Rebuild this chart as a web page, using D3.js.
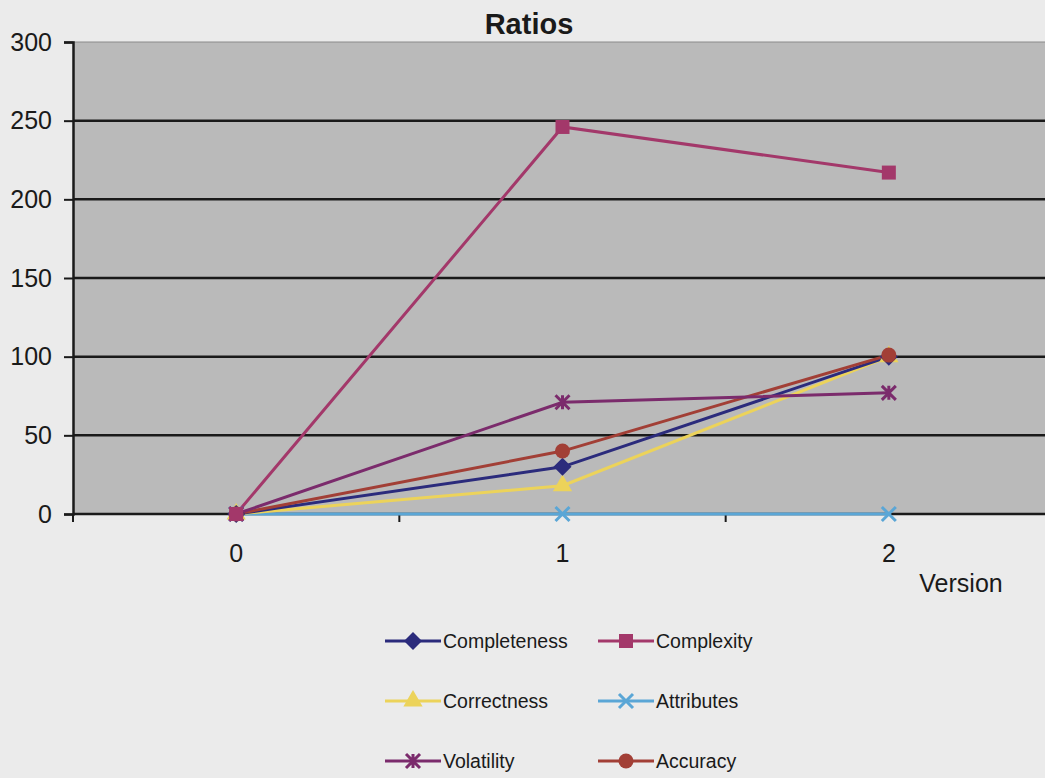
<!DOCTYPE html>
<html>
<head>
<meta charset="utf-8">
<script src="https://cdn.jsdelivr.net/npm/d3@7"></script>
<style>
  body { margin: 0; background: #ebebeb; }
  svg { display: block; font-family: "Liberation Sans", Arial, sans-serif; }
</style>
</head>
<body>
<div id="chart"></div>
<script>
// chart data
var versions = ["0", "1", "2"];
var yTicks = [0, 50, 100, 150, 200, 250, 300];
var seriesNames = ["Completeness", "Complexity", "Correctness", "Attributes", "Volatility", "Accuracy"];
var completeness = [0, 30, 100];
var complexity = [0, 246, 217];
var correctness = [0, 18, 100];
var attributes = [0, 0, 0];
var volatility = [0, 71, 77];
var accuracy = [0, 40, 101];

var colors = ["#2b2b7c", "#a3386a", "#ecd35a", "#5aa6d6", "#7b2b6c", "#a23f36"];
var markers = ["diamond", "square", "triangle", "x", "star", "circle"];

var series = seriesNames.map(function(name, i) {
    return { name: name, values: [completeness, complexity, correctness, attributes, volatility, accuracy][i], color: colors[i], marker: markers[i] };
});

var width = 1045, height = 778;
var plotLeft = 73, plotRight = 1052, plotTop = 42, plotBottom = 514;

var svg = d3.select("#chart").append("svg")
    .attr("width", width)
    .attr("height", height);

svg.append("rect").attr("width", width).attr("height", height).attr("fill", "#ebebeb");

var x = d3.scaleBand().domain(versions).range([plotLeft, plotRight]);
var y = d3.scaleLinear().domain([0, 300]).range([plotBottom, plotTop]);

// plot area
svg.append("rect")
    .attr("x", plotLeft).attr("y", plotTop)
    .attr("width", plotRight - plotLeft).attr("height", plotBottom - plotTop)
    .attr("fill", "#bababa");

// gridlines
svg.append("g").selectAll("line")
    .data(yTicks.filter(function(d) { return d > 0 && d < 300; }))
    .enter().append("line")
    .attr("x1", plotLeft).attr("x2", plotRight)
    .attr("y1", function(d) { return y(d); })
    .attr("y2", function(d) { return y(d); })
    .attr("stroke", "#1a1a1a")
    .attr("stroke-width", 2.5);

svg.append("line")
    .attr("x1", plotLeft).attr("x2", plotRight)
    .attr("y1", plotTop).attr("y2", plotTop)
    .attr("stroke", "#8a8a8a").attr("stroke-width", 1);

// y axis
var yAxis = svg.append("g")
    .attr("transform", "translate(" + plotLeft + ",0)")
    .call(d3.axisLeft(y).tickValues(yTicks).tickSize(9).tickPadding(12));
yAxis.selectAll("text").attr("font-size", 25).attr("fill", "#1a1a1a").attr("font-family", "Liberation Sans, Arial, sans-serif");
yAxis.selectAll("line").attr("stroke", "#1a1a1a").attr("stroke-width", 2);
yAxis.select(".domain").attr("stroke", "#1a1a1a").attr("stroke-width", 2.5);

// x axis: ticks between categories, labels at centers
var xAxis = svg.append("g")
    .attr("transform", "translate(0," + plotBottom + ")");
xAxis.append("line")
    .attr("x1", plotLeft).attr("x2", plotRight)
    .attr("stroke", "#1a1a1a").attr("stroke-width", 2.5);
xAxis.selectAll(".tick")
    .data(versions)
    .enter().append("line")
    .attr("x1", function(d) { return x(d); })
    .attr("x2", function(d) { return x(d); })
    .attr("y1", 0).attr("y2", 8)
    .attr("stroke", "#1a1a1a").attr("stroke-width", 2);
xAxis.selectAll("text")
    .data(versions)
    .enter().append("text")
    .attr("x", function(d) { return x(d) + x.bandwidth() / 2; })
    .attr("y", 48)
    .attr("text-anchor", "middle")
    .attr("font-size", 25)
    .attr("fill", "#1a1a1a")
    .text(function(d) { return d; });

svg.append("text")
    .attr("x", 961).attr("y", 592)
    .attr("text-anchor", "middle")
    .attr("font-size", 25)
    .attr("fill", "#1a1a1a")
    .text("Version");

svg.append("text")
    .attr("x", 529).attr("y", 34)
    .attr("text-anchor", "middle")
    .attr("font-size", 29)
    .attr("font-weight", "bold")
    .attr("fill", "#1a1a1a")
    .text("Ratios");

function cx(i) { return x(versions[i]) + x.bandwidth() / 2; }

function drawMarker(g, type, color, px, py) {
    var s = 7;
    if (type === "diamond") {
        g.append("path").attr("d", "M" + px + "," + (py - 9) + "L" + (px + 9) + "," + py + "L" + px + "," + (py + 9) + "L" + (px - 9) + "," + py + "Z")
            .attr("fill", color);
    } else if (type === "square") {
        g.append("rect").attr("x", px - s).attr("y", py - s).attr("width", 2 * s).attr("height", 2 * s).attr("fill", color);
    } else if (type === "triangle") {
        g.append("path").attr("d", d3.symbol().type(d3.symbolTriangle).size(160)())
            .attr("transform", "translate(" + px + "," + py + ")").attr("fill", color);
    } else if (type === "x") {
        g.append("path").attr("d", "M" + (px - s) + "," + (py - s) + "L" + (px + s) + "," + (py + s) + "M" + (px - s) + "," + (py + s) + "L" + (px + s) + "," + (py - s))
            .attr("stroke", color).attr("stroke-width", 3).attr("fill", "none");
    } else if (type === "star") {
        g.append("path").attr("d", "M" + (px - s) + "," + (py - s) + "L" + (px + s) + "," + (py + s) + "M" + (px - s) + "," + (py + s) + "L" + (px + s) + "," + (py - s) + "M" + px + "," + (py - s) + "L" + px + "," + (py + s))
            .attr("stroke", color).attr("stroke-width", 3).attr("fill", "none");
    } else if (type === "circle") {
        g.append("circle").attr("cx", px).attr("cy", py).attr("r", 7.5).attr("fill", color);
    }
}

var line = d3.line()
    .x(function(d, i) { return cx(i); })
    .y(function(d) { return y(d); });

// draw lines (Attributes first so it sits on axis, then others)
var order = [3, 2, 0, 5, 4, 1];
var lines = svg.append("g");
order.forEach(function(k) {
    var s = series[k];
    lines.append("path")
        .datum(s.values)
        .attr("d", line)
        .attr("fill", "none")
        .attr("stroke", s.color)
        .attr("stroke-width", 3);
});
order.forEach(function(k) {
    var s = series[k];
    var g = lines.append("g");
    s.values.forEach(function(v, i) {
        drawMarker(g, s.marker, s.color, cx(i), y(v));
    });
});

// legend
var legendCols = [385, 598];
var legendRows = [641, 701, 761];
var legend = svg.append("g");
series.forEach(function(s, i) {
    var lx = legendCols[i % 2], ly = legendRows[Math.floor(i / 2)];
    var g = legend.append("g");
    g.append("line").attr("x1", lx).attr("x2", lx + 56).attr("y1", ly).attr("y2", ly)
        .attr("stroke", s.color).attr("stroke-width", 3);
    drawMarker(g, s.marker, s.color, lx + 28, ly);
    g.append("text").attr("x", lx + 58).attr("y", ly + 7)
        .attr("font-size", 19.5).attr("fill", "#1a1a1a").text(s.name);
});
</script>
</body>
</html>
